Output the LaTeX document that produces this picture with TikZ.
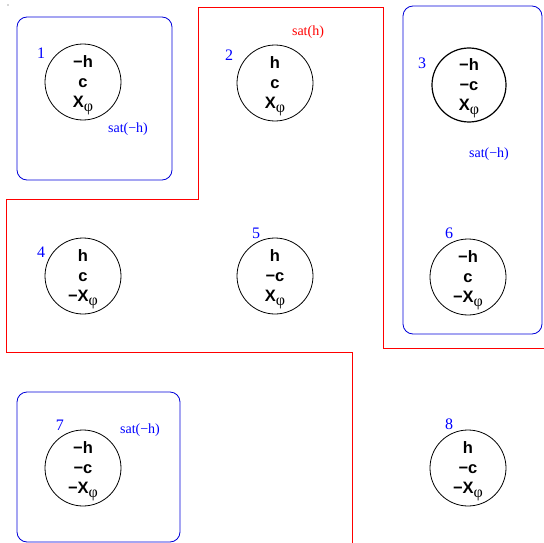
\documentclass[tikz,border=0pt]{standalone}
\usepackage{fontspec}
\setmainfont{Liberation Serif}
\newfontfamily\lsans{Liberation Sans}
% X with a serif phi as subscript
\newcommand{\xphi}{X\raisebox{-3.5pt}{\rmfamily\mdseries\fontsize{16}{16}\selectfont φ}}
\begin{document}
\begin{tikzpicture}[x=1pt,y=-1pt,
  state/.style={circle,draw=black,line width=0.8pt,minimum size=76pt,inner sep=0pt,
    align=center,text depth=0pt,font=\lsans\bfseries\fontsize{16.5}{20}\selectfont},
  region/.style={draw=blue!85!black,rounded corners=10pt,line width=0.8pt},
  num/.style={text=blue,font=\fontsize{16}{16}\selectfont,inner sep=0pt},
  satl/.style={text=blue,font=\fontsize{14}{14}\selectfont,inner sep=0pt}
]
\useasboundingbox (0,0) rectangle (544,543);
\fill[black!70] (8,5) circle (0.7);

% satisfying regions of -h
\draw[region] (17,17) rectangle (172,180);
\draw[region] (403,6) rectangle (542,334);
\draw[region] (17,392) rectangle (180,542);

% boundary of the region satisfying h
\draw[red,line width=0.8pt] (544,348) -- (383,348) -- (383,7) -- (198,7) -- (198,199)
  -- (6,199) -- (6,352) -- (352,352) -- (352,543);

% states
\node[state] (s1) at (83,82) {−h\\c\\\xphi};
\node[state] (s2) at (275,83) {h\\c\\\xphi};
\node[state,line width=1.2pt,minimum size=74pt] (s3) at (469,85) {−h\\−c\\\xphi};
\node[state] (s4) at (83,276) {h\\c\\−\xphi};
\node[state] (s5) at (275,276) {h\\−c\\\xphi};
\node[state] (s6) at (468,277) {−h\\c\\−\xphi};
\node[state] (s7) at (83,468) {−h\\−c\\−\xphi};
\node[state] (s8) at (468,468) {h\\−c\\−\xphi};

% state numbers
\node[num] (n1) at (41,53) {1};
\node[num] (n2) at (229,55) {2};
\node[num] (n3) at (422,63) {3};
\node[num] (n4) at (41,252) {4};
\node[num] (n5) at (256,233) {5};
\node[num] (n6) at (449,233) {6};
\node[num] (n7) at (60,425) {7};
\node[num] (n8) at (449,424) {8};

% region labels
\node[satl] (l1) at (128,129) {sat(−h)};
\node[satl,text=red] (l2) at (308,32) {sat(h)};
\node[satl] (l3) at (489,154) {sat(−h)};
\node[satl] (l7) at (140,430) {sat(−h)};
\end{tikzpicture}
\end{document}
